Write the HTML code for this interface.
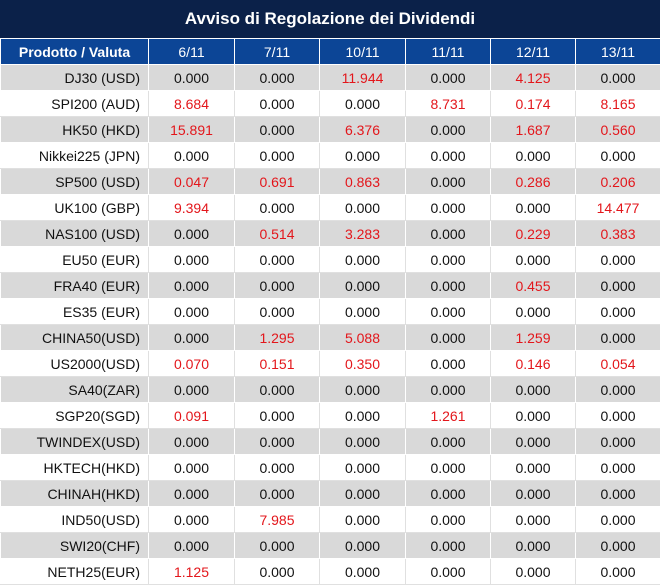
<!DOCTYPE html>
<html><head><meta charset="utf-8"><style>
body{margin:0;width:660px;height:587px;background:#fff;font-family:"Liberation Sans",sans-serif;overflow:hidden}
.t{height:38px;background:#0b2149;color:#fff;font-size:17px;font-weight:bold;text-align:center;line-height:38px;border-bottom:1px solid #fff}
table{border-collapse:collapse;width:660px;table-layout:fixed}
td{height:25px;padding:0;font-size:14px;text-align:center;color:#111;border:1px solid #fff;border-top:none}
tr.h td{background:#0c4596;color:#fff;height:25px;border-color:#fff}
tr.h td:first-child{font-weight:bold}
tr.g td{background:#d9d9d9}
tr.w td{border-right:1px solid #e0e0e0;border-bottom:1px solid #e0e0e0}
td:first-child{text-align:right;padding-right:8px}
tr.h td:first-child{text-align:center;padding:0}
.r{color:#e3161b}
</style></head><body>
<div class="t">Avviso di Regolazione dei Dividendi</div>
<table>
<colgroup><col style="width:148px"><col style="width:86px"><col style="width:85px"><col style="width:86px"><col style="width:85px"><col style="width:85px"><col style="width:85px"></colgroup>
<tr class="h"><td>Prodotto / Valuta</td><td>6/11</td><td>7/11</td><td>10/11</td><td>11/11</td><td>12/11</td><td>13/11</td></tr>
<tr class="g"><td>DJ30 (USD)</td><td>0.000</td><td>0.000</td><td class="r">11.944</td><td>0.000</td><td class="r">4.125</td><td>0.000</td></tr>
<tr class="w"><td>SPI200 (AUD)</td><td class="r">8.684</td><td>0.000</td><td>0.000</td><td class="r">8.731</td><td class="r">0.174</td><td class="r">8.165</td></tr>
<tr class="g"><td>HK50 (HKD)</td><td class="r">15.891</td><td>0.000</td><td class="r">6.376</td><td>0.000</td><td class="r">1.687</td><td class="r">0.560</td></tr>
<tr class="w"><td>Nikkei225 (JPN)</td><td>0.000</td><td>0.000</td><td>0.000</td><td>0.000</td><td>0.000</td><td>0.000</td></tr>
<tr class="g"><td>SP500 (USD)</td><td class="r">0.047</td><td class="r">0.691</td><td class="r">0.863</td><td>0.000</td><td class="r">0.286</td><td class="r">0.206</td></tr>
<tr class="w"><td>UK100 (GBP)</td><td class="r">9.394</td><td>0.000</td><td>0.000</td><td>0.000</td><td>0.000</td><td class="r">14.477</td></tr>
<tr class="g"><td>NAS100 (USD)</td><td>0.000</td><td class="r">0.514</td><td class="r">3.283</td><td>0.000</td><td class="r">0.229</td><td class="r">0.383</td></tr>
<tr class="w"><td>EU50 (EUR)</td><td>0.000</td><td>0.000</td><td>0.000</td><td>0.000</td><td>0.000</td><td>0.000</td></tr>
<tr class="g"><td>FRA40 (EUR)</td><td>0.000</td><td>0.000</td><td>0.000</td><td>0.000</td><td class="r">0.455</td><td>0.000</td></tr>
<tr class="w"><td>ES35 (EUR)</td><td>0.000</td><td>0.000</td><td>0.000</td><td>0.000</td><td>0.000</td><td>0.000</td></tr>
<tr class="g"><td>CHINA50(USD)</td><td>0.000</td><td class="r">1.295</td><td class="r">5.088</td><td>0.000</td><td class="r">1.259</td><td>0.000</td></tr>
<tr class="w"><td>US2000(USD)</td><td class="r">0.070</td><td class="r">0.151</td><td class="r">0.350</td><td>0.000</td><td class="r">0.146</td><td class="r">0.054</td></tr>
<tr class="g"><td>SA40(ZAR)</td><td>0.000</td><td>0.000</td><td>0.000</td><td>0.000</td><td>0.000</td><td>0.000</td></tr>
<tr class="w"><td>SGP20(SGD)</td><td class="r">0.091</td><td>0.000</td><td>0.000</td><td class="r">1.261</td><td>0.000</td><td>0.000</td></tr>
<tr class="g"><td>TWINDEX(USD)</td><td>0.000</td><td>0.000</td><td>0.000</td><td>0.000</td><td>0.000</td><td>0.000</td></tr>
<tr class="w"><td>HKTECH(HKD)</td><td>0.000</td><td>0.000</td><td>0.000</td><td>0.000</td><td>0.000</td><td>0.000</td></tr>
<tr class="g"><td>CHINAH(HKD)</td><td>0.000</td><td>0.000</td><td>0.000</td><td>0.000</td><td>0.000</td><td>0.000</td></tr>
<tr class="w"><td>IND50(USD)</td><td>0.000</td><td class="r">7.985</td><td>0.000</td><td>0.000</td><td>0.000</td><td>0.000</td></tr>
<tr class="g"><td>SWI20(CHF)</td><td>0.000</td><td>0.000</td><td>0.000</td><td>0.000</td><td>0.000</td><td>0.000</td></tr>
<tr class="w"><td>NETH25(EUR)</td><td class="r">1.125</td><td>0.000</td><td>0.000</td><td>0.000</td><td>0.000</td><td>0.000</td></tr>
</table>
</body></html>
